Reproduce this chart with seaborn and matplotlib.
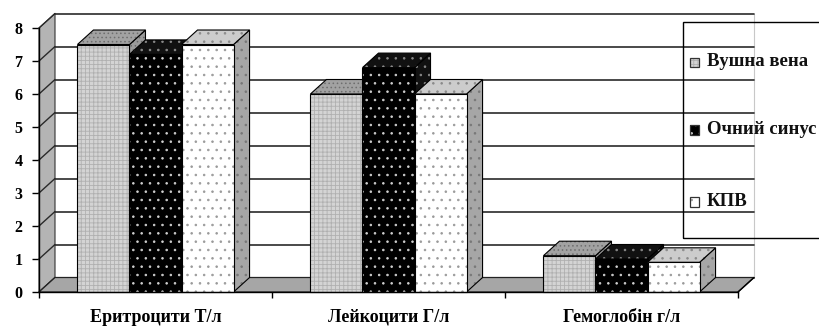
import matplotlib
matplotlib.use("Agg")
import matplotlib.pyplot as plt
from matplotlib.patches import Polygon, Rectangle
import numpy as np
import pandas as pd
import seaborn as sns

# Blood indices by sampling site
categories = ["Еритроцити Т/л", "Лейкоцити Г/л", "Гемоглобін г/л"]
series = ["Вушна вена", "Очний синус", "КПВ"]
vushna_vena = [7.5, 6.0, 1.1]
ochnyi_synus = [7.2, 6.8, 1.0]
kpv = [7.5, 6.0, 0.9]
y_ticks = [0, 1, 2, 3, 4, 5, 6, 7, 8]

df = pd.DataFrame({
    "category": categories * 3,
    "series": [series[0]] * 3 + [series[1]] * 3 + [series[2]] * 3,
    "value": vushna_vena + ochnyi_synus + kpv,
})

sns.set_theme(style="white")
plt.rcParams["font.family"] = ["Liberation Serif", "DejaVu Serif"]
plt.rcParams["font.weight"] = "bold"
plt.rcParams["hatch.linewidth"] = 0.6

W, H = 819, 327
fig = plt.figure(figsize=(W / 100, H / 100), dpi=100)
fig.patch.set_facecolor("white")


def fx(px):
    return px / W


def fy(py):
    return 1 - py / H


# front plane of the 3-D box in pixels
x_left, x_right, y_bot, y_top = 39, 738, 292, 28
ax = fig.add_axes([x_left / W, (H - y_bot) / H, (x_right - x_left) / W, (y_bot - y_top) / H])
ax.set_facecolor("none")

# face styles: front (face, hatch colour, hatch), top, side
styles = {
    "Вушна вена": dict(front=("#d4d4d4", "#b0b0b0", "++++"),
                       top=("#a2a2a2", "#6e6e6e", "...."),
                       side=("#9a9a9a", "#666666", "....")),
    "Очний синус": dict(front=("#000000", "#d0d0d0", ".."),
                        top=("#111111", "#8a8a8a", ".."),
                        side=("#111111", "#8a8a8a", "..")),
    "КПВ": dict(front=("#ffffff", "#9a9a9a", ".."),
                top=("#cccccc", "#8a8a8a", ".."),
                side=("#a6a6a6", "#777777", "..")),
}

sns.barplot(data=df, x="category", y="value", hue="series", hue_order=series,
            order=categories, width=0.67, saturation=1, legend=False,
            palette=[styles[s]["front"][0] for s in series], ax=ax)

ax.set_xlim(-0.5, 2.5)
ax.set_ylim(0, 8)

# depth of the 3-D projection, in data units
px_x = (x_right - x_left) / 3.0
px_y = (y_bot - y_top) / 8.0
DX = 16 / px_x
DY = 14.5 / px_y
x0, x1 = -0.5, 2.5
ytop = y_ticks[-1]

# left wall
ax.add_patch(Polygon([(x0, 0), (x0 + DX, DY), (x0 + DX, ytop + DY), (x0, ytop)],
                     closed=True, facecolor="#b4b4b4", edgecolor="#333333",
                     lw=0.8, zorder=1, clip_on=False))
# floor
ax.add_patch(Polygon([(x0, 0), (x1, 0), (x1 + DX, DY), (x0 + DX, DY)],
                     closed=True, facecolor="#a6a6a6", edgecolor="#222222",
                     lw=0.9, zorder=1.2, clip_on=False))
# back wall right edge
ax.plot([x1 + DX, x1 + DX], [DY, ytop + DY], color="#c8c8c8", lw=0.8,
        zorder=1, clip_on=False)
# gridlines on the back wall and on the left wall
for v in y_ticks:
    ax.plot([x0 + DX, x1 + DX], [v + DY, v + DY], color="#2a2a2a", lw=1.2,
            zorder=1.1, clip_on=False)
    ax.plot([x0, x0 + DX], [v, v + DY], color="#2a2a2a", lw=1.0,
            zorder=1.1, clip_on=False)


def face(verts, spec, z):
    fc, hc, hatch = spec
    ax.add_patch(Polygon(verts, closed=True, facecolor=fc, edgecolor=hc,
                         hatch=hatch, lw=0, zorder=z, clip_on=False))
    ax.add_patch(Polygon(verts, closed=True, fill=False, edgecolor="black",
                         lw=0.8, zorder=z + 0.001, clip_on=False))


# bars: draw left to right, each as side, top, then front
bars = []
for name, cont in zip(series, ax.containers):
    for rect in cont.patches:
        bars.append((rect.get_x(), name, rect))
bars.sort(key=lambda b: b[0])
for i, (bx, name, rect) in enumerate(bars):
    w = rect.get_width()
    h = rect.get_height()
    z = 3 + i * 0.01
    st = styles[name]
    face([(bx + w, 0), (bx + w + DX, DY), (bx + w + DX, h + DY), (bx + w, h)],
         st["side"], z)
    face([(bx, h), (bx + w, h), (bx + w + DX, h + DY), (bx + DX, h + DY)],
         st["top"], z + 0.002)
    fc, hc, hatch = st["front"]
    rect.set_facecolor(fc)
    rect.set_edgecolor(hc)
    rect.set_hatch(hatch)
    rect.set_linewidth(0)
    rect.set_zorder(z + 0.004)
    ax.add_patch(Rectangle((bx, 0), w, h, fill=False, edgecolor="black",
                           lw=0.8, zorder=z + 0.005, clip_on=False))

# axes and ticks
for s in ["top", "right"]:
    ax.spines[s].set_visible(False)
for s in ["left", "bottom"]:
    ax.spines[s].set_color("black")
    ax.spines[s].set_linewidth(1.0)
    ax.spines[s].set_zorder(10)
ax.plot([x1, x1 + DX], [0, DY], color="black", lw=1.0, zorder=10, clip_on=False)

ax.set_yticks(y_ticks)
ax.set_yticklabels([str(t) for t in y_ticks], fontsize=11.5, fontweight="bold")
ax.tick_params(axis="y", direction="out", length=5, width=1.0, pad=7,
               colors="black", left=True)
ax.set_xticks(range(len(categories)))
ax.set_xticklabels(categories, fontsize=13, fontweight="bold")
ax.set_xticks([-0.5, 0.5, 1.5, 2.5], minor=True)
ax.tick_params(axis="x", which="major", length=0, pad=12, colors="black")
ax.tick_params(axis="x", which="minor", direction="out", length=4, width=1.0,
               bottom=True, colors="black")
ax.set_xlabel("")
ax.set_ylabel("")
ax.grid(False)

# legend box, running past the right edge of the figure
fig.add_artist(Rectangle((fx(683), fy(238)), fx(835) - fx(683), fy(22) - fy(238),
                         transform=fig.transFigure, fill=False, edgecolor="black",
                         lw=1.0, zorder=20))
legend_rows = [62, 130, 202]
for name, row in zip(series, legend_rows):
    fc, hc, hatch = styles[name]["front"]
    key = (fx(690), fy(row + 4.5)), fx(699) - fx(690), fy(row - 4.5) - fy(row + 4.5)
    fig.add_artist(Rectangle(*key, transform=fig.transFigure, facecolor=fc,
                             edgecolor=hc, hatch=hatch, lw=0, zorder=20))
    fig.add_artist(Rectangle(*key, transform=fig.transFigure, fill=False,
                             edgecolor="#333333", lw=0.9, zorder=20.1))
    fig.text(fx(707), fy(row), name, ha="left", va="center", fontsize=13.5,
             fontweight="bold", color="#111111", zorder=21)

fig.savefig("out.png", dpi=100, facecolor="white")
